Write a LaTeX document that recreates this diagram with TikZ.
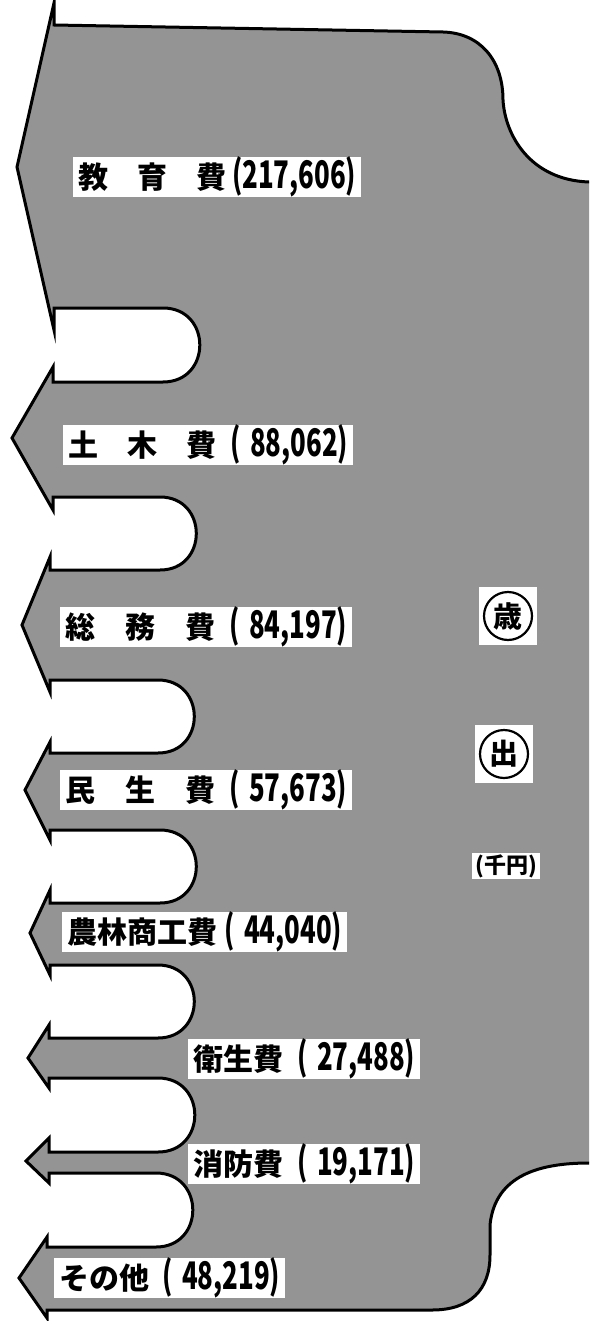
\documentclass[tikz,border=0pt]{standalone}
\usepackage{fontspec}
\setmainfont{Noto Sans CJK JP}
\usepackage{graphicx}
\usepackage{tikz}
\tikzstyle{flow}   = [draw, line width=3pt, fill=black!42]
\tikzstyle{himoku} = [fill=white, anchor=west, inner xsep=5pt, inner ysep=0pt, minimum height=34pt, font=\bfseries\fontsize{30}{30}\selectfont]
\tikzstyle{waku}   = [fill=white, minimum size=58pt, inner sep=0pt]
\tikzstyle{maru}   = [draw, circle, line width=2.2pt, minimum size=48pt, inner sep=0pt, font=\bfseries\fontsize{29}{29}\selectfont]
\tikzstyle{tani}   = [fill=white, inner xsep=3pt, inner ysep=1pt, font=\bfseries\fontsize{22}{22}\selectfont]
\newcommand\amt[1]{\scalebox{0.68}[1]{\fontsize{38}{38}\selectfont #1}}
\newcommand\himokutext[4]{\makebox[#1]{\makebox[#2][s]{#3}\hfill\amt{#4}}}

\begin{document}
\begin{tikzpicture}[x=1pt, y=-1pt]
    \useasboundingbox (0,0) rectangle (589,1321);
    \clip (0,0) rectangle (589,1321);

    % 歳出の流れ (right edge runs off the page)
    \draw [flow] (620,182) -- (589,182)
        .. controls (530,180) and (505,135) .. (503,100)
        .. controls (503,60) and (480,33) .. (443,32)
        -- (54,25) -- (54,3) -- (17,167) -- (54,330) -- (54,308)
        -- (163,308) to[out=0, in=0, looseness=1.7] (163,382)
        -- (53,382) -- (53,367) -- (12,438) -- (53,510) -- (53,497)
        -- (160,497) to[out=0, in=0, looseness=1.7] (160,570)
        -- (50,570) -- (50,557) -- (22,625) -- (50,692) -- (50,680)
        -- (158,680) to[out=0, in=0, looseness=1.7] (158,753)
        -- (50,753) -- (50,742) -- (25,790) -- (50,840) -- (50,830)
        -- (160,830) to[out=0, in=0, looseness=1.7] (160,903)
        -- (50,903) -- (50,890) -- (30,933) -- (50,975) -- (50,965)
        -- (158,965) to[out=0, in=0, looseness=1.7] (158,1038)
        -- (49,1038) -- (49,1025) -- (28,1058) -- (49,1088) -- (49,1078)
        -- (158,1078) to[out=0, in=0, looseness=1.7] (158,1152)
        -- (49,1152) -- (49,1138) -- (26,1161) -- (49,1183) -- (49,1173)
        -- (156,1173) to[out=0, in=0, looseness=1.7] (156,1247)
        -- (47,1247) -- (47,1237) -- (19,1278) -- (47,1318) -- (47,1310)
        -- (432,1310)
        .. controls (470,1310) and (490,1290) .. (490,1255)
        -- (490,1225)
        .. controls (495,1175) and (540,1163) .. (589,1163)
        -- (620,1163) -- cycle;

    % 費目
    \node (kyoiku) [himoku] at (73,177)   {\himokutext{278pt}{148pt}{教\hfil 育\hfil 費}{(217,606)}};
    \node (doboku) [himoku] at (63,445)   {\himokutext{280pt}{148pt}{土\hfil 木\hfil 費}{(\hspace{14pt}88,062)}};
    \node (somu)   [himoku] at (60,627)   {\himokutext{282pt}{150pt}{総\hfil 務\hfil 費}{(\hspace{14pt}84,197)}};
    \node (minsei) [himoku] at (60,790)   {\himokutext{282pt}{150pt}{民\hfil 生\hfil 費}{(\hspace{14pt}57,673)}};
    \node (norin)  [himoku] at (62,932)   {\himokutext{275pt}{152pt}{農林商工費}{(\hspace{14pt}44,040)}};
    \node (eisei)  [himoku] at (188,1059) {\himokutext{222pt}{90pt}{衛生費}{(\hspace{14pt}27,488)}};
    \node (shobo)  [himoku] at (188,1164) {\himokutext{222pt}{90pt}{消防費}{(\hspace{14pt}19,171)}};
    \node (sonota) [himoku] at (54,1278)  {\himokutext{221pt}{90pt}{その他}{(\hspace{14pt}48,219)}};

    % 歳出
    \node (saiwaku)  [waku] at (508,616) {};
    \node (sai)      [maru] at (saiwaku) {歳};
    \node (shutwaku) [waku] at (504,754) {};
    \node (shutsu)   [maru] at (shutwaku) {出};
    \node (tani)     [tani] at (506,866) {(千円)};
\end{tikzpicture}
\end{document}
